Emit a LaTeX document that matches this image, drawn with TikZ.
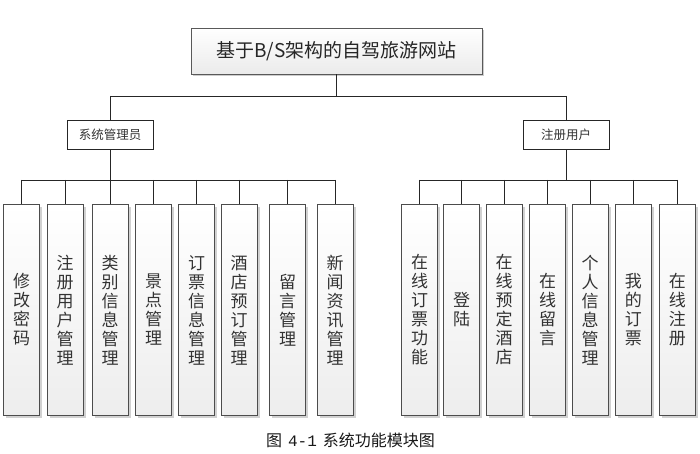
\documentclass[tikz,border=0pt]{standalone}
\usepackage{fontspec}
\setmainfont{Noto Sans CJK SC}
\newfontfamily\capmono{Liberation Mono}
\usetikzlibrary{shadows}
\begin{document}
\begin{tikzpicture}[x=1pt,y=-1pt,
  line width=0.8pt,
  conn/.style={draw=black!85, line width=0.9pt},
  topbox/.style={draw=black!65, line width=0.9pt, top color=white, bottom color=black!8,
    minimum width=291pt, minimum height=46pt, inner sep=0pt, font=\fontsize{19}{22}\selectfont,
    text=black!85,
    drop shadow={shadow xshift=2pt, shadow yshift=-2pt, fill=black!20, opacity=1}},
  midbox/.style={draw=black!85, line width=0.9pt, fill=white, minimum width=86pt, minimum height=29pt,
    inner sep=0pt, font=\fontsize{12.5}{14}\selectfont, text=black!80},
  leaf/.style={draw=black!70, line width=0.9pt, top color=white, bottom color=black!7,
    minimum width=36pt, minimum height=211pt, inner sep=0pt, anchor=north,
    font=\fontsize{17}{19}\selectfont, align=center, text=black!80,
    drop shadow={shadow xshift=2.5pt, shadow yshift=-2.5pt, fill=black!18, opacity=1}},
  captext/.style={font=\fontsize{16}{18}\selectfont, text=black!90}
]
\useasboundingbox (0,0) rectangle (700,454);
\fill[white] (0,0) rectangle (700,454);

\node[topbox] (root) at (336.5,51) {基于B/S架构的自驾旅游网站};
\node[midbox] (admin) at (110,135) {系统管理员};
\node[midbox] (user) at (566,135) {注册用户};

\coordinate (rb) at (336.5,96);
\coordinate (ab) at (110,180);
\coordinate (ub) at (566,180);

% left leaves
\node[leaf] (l1) at (21.5,204) {修\\改\\密\\码};
\node[leaf] (l2) at (65,204) {注\\册\\用\\户\\管\\理};
\node[leaf] (l3) at (110,204) {类\\别\\信\\息\\管\\理};
\node[leaf] (l4) at (153.5,204) {景\\点\\管\\理};
\node[leaf] (l5) at (196.5,204) {订\\票\\信\\息\\管\\理};
\node[leaf] (l6) at (239,204) {酒\\店\\预\\订\\管\\理};
\node[leaf] (l7) at (287.5,204) {留\\言\\管\\理};
\node[leaf] (l8) at (335,204) {新\\闻\\资\\讯\\管\\理};

% right leaves
\node[leaf] (r1) at (419.5,204) {在\\线\\订\\票\\功\\能};
\node[leaf] (r2) at (461.7,204) {登\\陆};
\node[leaf] (r3) at (504,204) {在\\线\\预\\定\\酒\\店};
\node[leaf] (r4) at (547.5,204) {在\\线\\留\\言};
\node[leaf] (r5) at (590,204) {个\\人\\信\\息\\管\\理};
\node[leaf] (r6) at (633.3,204) {我\\的\\订\\票};
\node[leaf] (r7) at (677.3,204) {在\\线\\注\\册};

% connectors
\draw[conn] (root.south) -- (rb);
\draw[conn] (admin.north |- rb) -- (user.north |- rb);
\draw[conn] (admin.north |- rb) -- (admin.north);
\draw[conn] (user.north |- rb) -- (user.north);
\draw[conn] (admin.south) -- (ab);
\draw[conn] (user.south) -- (ub);
\draw[conn] (l1.north |- ab) -- (l8.north |- ab);
\draw[conn] (r1.north |- ub) -- (r7.north |- ub);
\foreach \n in {l1,l2,l3,l4,l5,l6,l7,l8}{\draw[conn] (\n.north |- ab) -- (\n.north);}
\foreach \n in {r1,r2,r3,r4,r5,r6,r7}{\draw[conn] (\n.north |- ub) -- (\n.north);}

\node[captext] (caption) at (350.5,440) {图\hspace{6pt}{\capmono 4-1}\hspace{6pt}系统功能模块图};
\end{tikzpicture}
\end{document}
